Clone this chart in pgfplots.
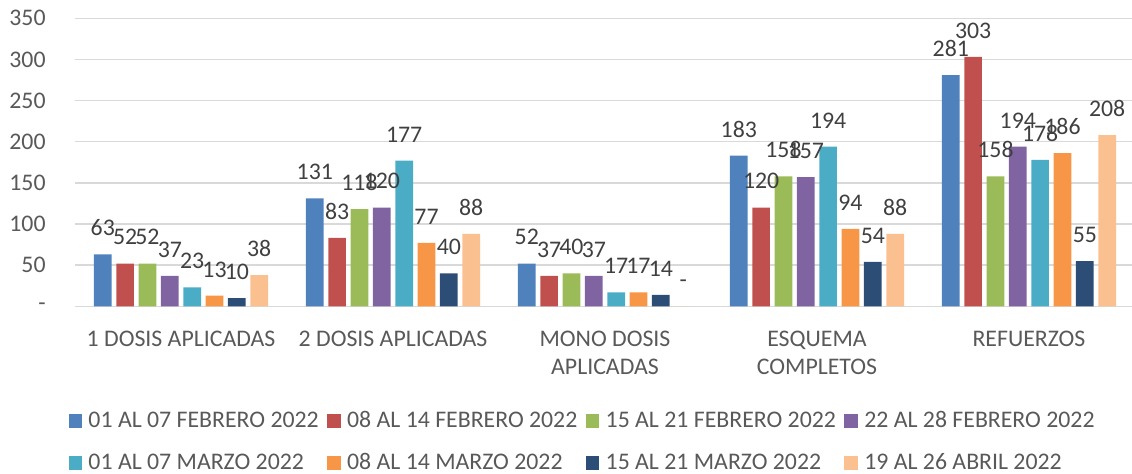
\documentclass[border=0pt]{standalone}
\usepackage{fontspec}
\setmainfont{Carlito}
\usepackage{pgfplots}
\pgfplotsset{compat=1.18}
\definecolor{sA}{HTML}{4F81BD}
\definecolor{sB}{HTML}{C0504D}
\definecolor{sC}{HTML}{9BBB59}
\definecolor{sD}{HTML}{8064A2}
\definecolor{sE}{HTML}{4BACC6}
\definecolor{sF}{HTML}{F79646}
\definecolor{sG}{HTML}{2C4D75}
\definecolor{sH}{HTML}{FAC090}
\definecolor{gridc}{HTML}{D9D9D9}
\definecolor{tickc}{HTML}{595959}
\definecolor{labc}{HTML}{404040}
% legend text: fixed column width like Excel
\newcommand{\lgd}[1]{\makebox[122.6pt][l]{\hspace{3.2pt}#1}}

\begin{document}
\begin{tikzpicture}[font=\fontsize{11.9}{14.2}\selectfont]
\begin{axis}[
  scale only axis, width=528.5pt, height=144pt,
  xmin=-0.5, xmax=4.486, ymin=0, ymax=350,
  ybar=2.32pt, bar width=8.85pt, clip=false,
  axis line style={draw=none}, major tick length=0pt,
  ymajorgrids, major grid style={draw=gridc, line width=0.75pt},
  ytick={0,50,100,150,200,250,300,350},
  yticklabels={{-\hspace{6pt}},50,100,150,200,250,300,350},
  yticklabel style={text=tickc, inner sep=0pt, anchor=east, xshift=-14.5pt},
  xtick={0,1,2,3,4},
  xticklabels={1 DOSIS APLICADAS, 2 DOSIS APLICADAS, MONO DOSIS\\APLICADAS,
    ESQUEMA\\COMPLETOS, REFUERZOS},
  xticklabel style={text=tickc, inner sep=0pt, anchor=north, align=center, yshift=-12pt},
  /pgf/number format/assume math mode=true,
  nodes near coords={\pgfmathfloatifflags{\pgfplotspointmeta}{0}{-}{\pgfmathprintnumber{\pgfplotspointmeta}}},
  nodes near coords style={text=labc, inner sep=0pt, anchor=south, yshift=9pt},
  legend columns=4, legend cell align=left,
  legend image code/.code={\fill[#1] (0pt,-3.35pt) rectangle (6.7pt,3.35pt);},
  legend style={at={(rel axis cs:0,0)}, anchor=north west, xshift=-3.35pt, yshift=-52.3pt,
    draw=none, fill=none, inner sep=0pt, column sep=0pt, row sep=11.5pt,
    nodes={inner sep=0pt, text=tickc}},
]
\addplot[fill=sA, draw=none] coordinates {(0,63) (1,131) (2,52) (3,183) (4,281)};
\addplot[fill=sB, draw=none] coordinates {(0,52) (1,83) (2,37) (3,120) (4,303)};
\addplot[fill=sC, draw=none] coordinates {(0,52) (1,118) (2,40) (3,158) (4,158)};
\addplot[fill=sD, draw=none] coordinates {(0,37) (1,120) (2,37) (3,157) (4,194)};
\addplot[fill=sE, draw=none] coordinates {(0,23) (1,177) (2,17) (3,194) (4,178)};
\addplot[fill=sF, draw=none] coordinates {(0,13) (1,77) (2,17) (3,94) (4,186)};
\addplot[fill=sG, draw=none] coordinates {(0,10) (1,40) (2,14) (3,54) (4,55)};
\addplot[fill=sH, draw=none] coordinates {(0,38) (1,88) (2,0) (3,88) (4,208)};
\legend{\lgd{01 AL 07 FEBRERO 2022},\lgd{08 AL 14 FEBRERO 2022},\lgd{15 AL 21 FEBRERO 2022},\lgd{22 AL 28 FEBRERO 2022},
  \lgd{01 AL 07 MARZO 2022},\lgd{08 AL 14 MARZO 2022},\lgd{15 AL 21 MARZO 2022},\lgd{19 AL 26 ABRIL 2022}}
\end{axis}
\pgfresetboundingbox
\path[use as bounding box] ([xshift=-37.5pt,yshift=-83.75pt]current axis.south west)
  rectangle ([yshift=9.15pt]current axis.north east);
\end{tikzpicture}
\end{document}
